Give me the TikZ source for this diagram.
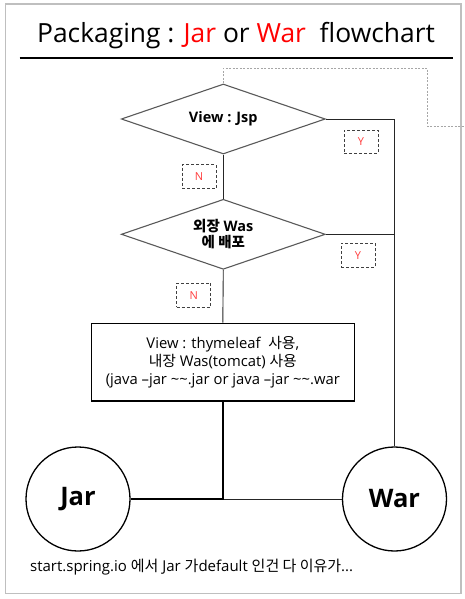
\documentclass[tikz,border=0pt]{standalone}
\usepackage{fontspec}
\setmainfont{Open Sans}
\newfontfamily\kr{Noto Sans CJK KR}
\usetikzlibrary{shapes.geometric}
\definecolor{redtxt}{HTML}{FF0000}
\definecolor{yn}{HTML}{FF3B3B}
\tikzset{
  decision/.style={diamond, draw=black!65, line width=1.1pt, aspect=2.9,
    minimum width=204pt, minimum height=70pt, inner sep=0pt,
    font=\fontsize{14.5}{16}\selectfont\bfseries, align=center},
  procbox/.style={rectangle, draw=black, line width=1.6pt,
    minimum width=263pt, minimum height=77.5pt, inner sep=0pt,
    font=\fontsize{14.8}{18}\selectfont, align=center},
  endcirc/.style={circle, draw=black, line width=1.3pt, minimum size=104pt,
    inner sep=0pt, font=\fontsize{25.5}{27}\selectfont\bfseries},
  ynbox/.style={rectangle, draw=black!75, densely dashed, line width=0.6pt,
    minimum width=34pt, minimum height=24pt, inner sep=0pt,
    text=yn, font=\fontsize{11}{12}\selectfont},
  conn/.style={draw=black!85, line width=0.9pt},
  thickconn/.style={draw=black, line width=2.4pt},
  guide/.style={draw=black!35, line width=0.9pt, dash pattern=on 2pt off 1.5pt},
}
\begin{document}
\begin{tikzpicture}[x=1pt,y=-1pt]
\useasboundingbox (0,0) rectangle (465,599);
% outer frame
\draw[draw=black!25, line width=1.5pt] (5.7,4) rectangle (461,593.5);
% title
\node[anchor=base, inner sep=0pt, font=\fontsize{26.4}{28}\selectfont] (title) at (236,42.7)
  {Packaging : \textcolor{redtxt}{Jar} or \textcolor{redtxt}{War}\ \ flowchart};
\draw[line width=2pt] (19.7,58.3) coordinate (ulA) -- (452.7,58.3) coordinate (ulB);

% decisions
\node[decision] (d1) at (223.3,119) {View : Jsp};
\node[decision] (d2) at (223.3,234.3) {{\kr 외장} Was\\{\kr 에 배포}};
% process box
\node[procbox] (box) at (222.8,362.2)
  {View : thymeleaf\ \ {\kr 사용},\\{\kr 내장} Was(tomcat) {\kr 사용}\\(java –jar \textasciitilde\textasciitilde.jar or java –jar \textasciitilde\textasciitilde.war};
% end nodes
\node[endcirc] (jar) at (78,499) {Jar};
\node[endcirc] (war) at (394.5,499) {War};

% Y / N labels
\node[ynbox, minimum height=23pt] (y1) at (361,141.5) {Y};
\node[ynbox] (y2) at (358,255.3) {Y};
\node[ynbox] (n1) at (199,176.7) {N};
\node[ynbox] (n2) at (193.7,295.2) {N};

% connectors
\draw[conn] (d1.east) -| (war.north);
\draw[conn] (d2.east) -- (d2.east -| war.north);
\draw[conn] (d1.south) -- (d2.north);
\draw[conn] (d2.south) -- (box.north);
\coordinate (junc) at (box.south |- jar.east);
\draw[conn] (junc) -- (war.west);
\draw[thickconn] (box.south) |- (jar.east);

% dashed guide
\coordinate (gEnd) at (465,126.7);
\draw[guide] (d1.north) -- ++(0,-15) -| (427.7,126.7) -- (gEnd);

% bottom note
\node[anchor=base west, inner sep=0pt, font=\fontsize{15}{17}\selectfont] (note) at (30,571)
  {start.spring.io {\kr 에서} Jar {\kr 가}default {\kr 인건 다 이유가}...};
\end{tikzpicture}
\end{document}
